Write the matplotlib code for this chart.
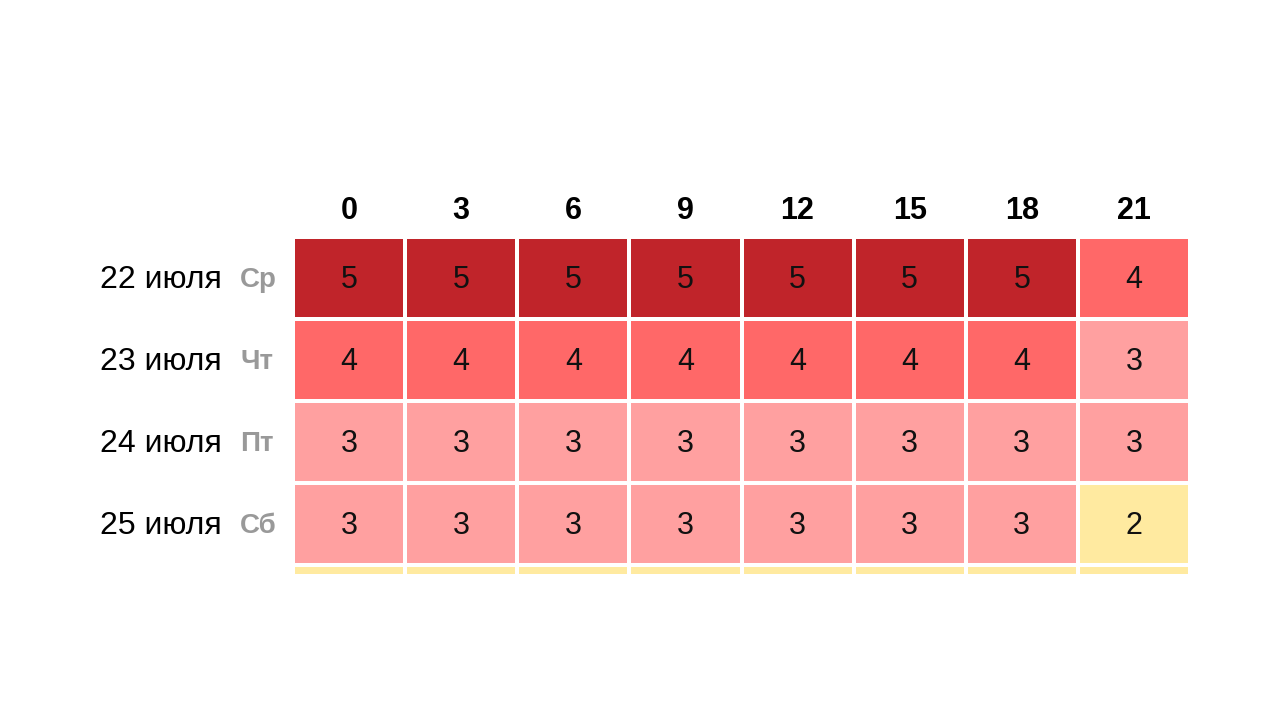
import matplotlib.pyplot as plt
import numpy as np
from matplotlib.colors import ListedColormap, BoundaryNorm

plt.rcParams['font.family'] = ['Liberation Sans', 'DejaVu Sans']

# data
hours = [0, 3, 6, 9, 12, 15, 18, 21]
dates = ['22 июля', '23 июля', '24 июля', '25 июля', '26 июля']
days = ['Ср', 'Чт', 'Пт', 'Сб', 'Вс']
values = [
    [5, 5, 5, 5, 5, 5, 5, 4],
    [4, 4, 4, 4, 4, 4, 4, 3],
    [3, 3, 3, 3, 3, 3, 3, 3],
    [3, 3, 3, 3, 3, 3, 3, 2],
    [2, 2, 2, 2, 2, 2, 2, 2],
]

colors = ['#ffeaa0', '#ffa0a0', '#ff6868', '#c0242a']
cmap = ListedColormap(colors)
norm = BoundaryNorm([1.5, 2.5, 3.5, 4.5, 5.5], cmap.N)

fig = plt.figure(figsize=(12.8, 7.2), dpi=100)
W, H = 1280, 720
left, right, top, bottom = 293, 1190, 237, 574
ax = fig.add_axes([left / W, 1 - bottom / H, (right - left) / W, (bottom - top) / H])

z = np.array(values)
ax.pcolormesh(z, cmap=cmap, norm=norm, edgecolors='white', linewidth=1.6)
row_h = 82
ax.set_xlim(0, len(hours))
ax.set_ylim((bottom - top) / row_h, 0)
ax.axis('off')

for i in range(4):
    for j in range(len(hours)):
        ax.text(j + 0.5, i + 0.52, str(values[i][j]), ha='center', va='center',
                fontsize=22, color='#111111')

for j, h in enumerate(hours):
    ax.text(j + 0.5, -0.32, str(h), ha='center', va='center', fontsize=22,
            fontweight='bold', color='black')

for i in range(4):
    yfig = 1 - (top + row_h * (i + 0.5) + 2) / H
    fig.text(222 / W, yfig, dates[i], ha='right', va='center', fontsize=23, color='black')
    fig.text(240 / W, yfig, days[i], ha='left', va='center', fontsize=20,
             fontweight='bold', color='#999999')

fig.savefig('out.png', dpi=100)
